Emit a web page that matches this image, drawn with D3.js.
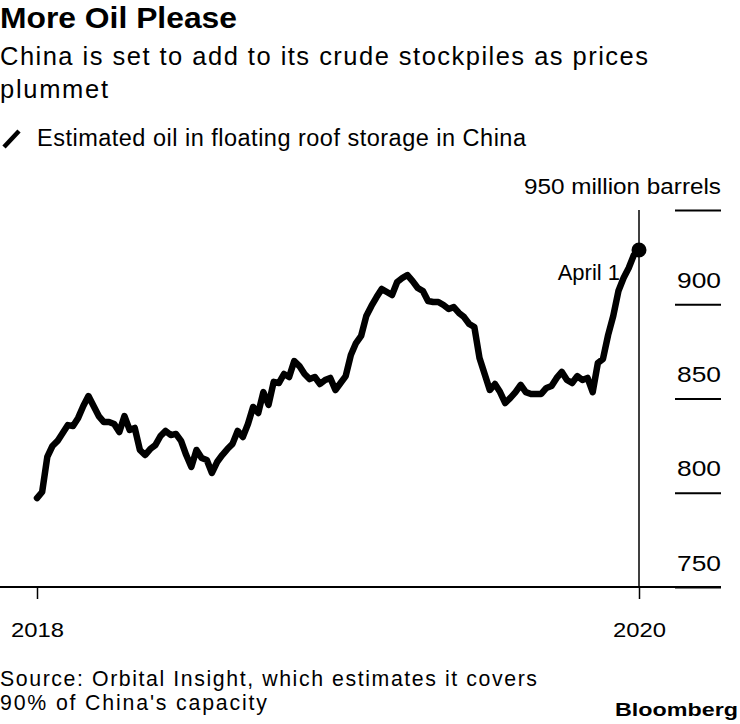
<!DOCTYPE html>
<html>
<head>
<meta charset="utf-8">
<script src="https://cdn.jsdelivr.net/npm/d3@7"></script>
<style>
  html, body { margin: 0; padding: 0; background: #fff; }
  svg { display: block; }
  text { font-family: "Liberation Sans", Arial, Helvetica, sans-serif; fill: #000; }
</style>
</head>
<body>
<svg id="chart" width="740" height="724"></svg>
<script>
// ---- data (weekly, starting 2018-01-03, ending 2020-04-01) ----
const startDate = "2018-01-03";
const storageValues = [
  797.2, 800.4, 819.0, 824.8, 827.5, 831.7, 835.9, 835.4, 839.7, 846.0,
  851.3, 846.0, 840.7, 837.5, 837.5, 836.5, 832.2, 840.7, 833.3, 834.4,
  822.7, 820.0, 823.2, 825.3, 830.1, 832.8, 830.6, 831.2, 827.5, 820.0,
  813.7, 822.7, 818.4, 817.4, 810.5, 816.3, 820.0, 823.2, 825.9, 832.8,
  829.6, 836.5, 845.5, 842.3, 853.4, 846.6, 858.8, 858.2, 863.0, 861.4,
  869.9, 867.2, 863.0, 860.3, 861.4, 857.7, 859.8, 860.9, 854.5, 858.2,
  861.9, 873.1, 879.4, 883.2, 893.8, 899.1, 903.8, 908.1, 906.5, 904.9,
  911.8, 913.9, 915.5, 912.3, 908.6, 907.0, 901.7, 901.2, 901.2, 899.6,
  897.5, 898.5, 895.4, 893.2, 889.5, 887.9, 871.5, 863.0, 854.5, 857.7,
  853.4, 847.6, 850.3, 853.4, 857.2, 853.4, 852.4, 852.4, 852.4, 855.6,
  856.6, 860.9, 864.1, 859.8, 858.2, 861.9, 859.8, 860.9, 853.4, 868.8,
  871.0, 883.7, 893.8, 907.0, 913.9, 919.2, 926.1, 928.8
];
const yTicks = [750, 800, 850, 900, 950];
const yUnitLabel = "950 million barrels";
const xTickLabels = ["2018", "2020"];
const endLabel = "April 1";
const title = "More Oil Please";
const subtitleLines = ["China is set to add to its crude stockpiles as prices", "plummet"];
const legendLabel = "Estimated oil in floating roof storage in China";
const sourceLines = ["Source: Orbital Insight, which estimates it covers", "90% of China's capacity"];

// ---- build ----
const parse = d3.timeParse("%Y-%m-%d");
const t0 = parse(startDate);
const data = storageValues.map((v, i) => ({ date: d3.timeWeek.offset(t0, i), value: v }));
const first = data[0], last = data[data.length - 1];

const svg = d3.select("#chart");

const x = d3.scaleTime().domain([first.date, last.date]).range([37, 639]);
const y = d3.scaleLinear().domain([750, 950]).range([587, 210]);

// Header
svg.append("text").attr("x", 0).attr("y", 28)
  .attr("font-size", 30).attr("font-weight", "bold")
  .attr("textLength", 237).attr("lengthAdjust", "spacingAndGlyphs")
  .text(title);

svg.append("text").attr("x", 0).attr("y", 65)
  .attr("font-size", 25.5).attr("textLength", 648).attr("lengthAdjust", "spacing")
  .text(subtitleLines[0]);
svg.append("text").attr("x", 0).attr("y", 98)
  .attr("font-size", 25.5).attr("textLength", 108).attr("lengthAdjust", "spacing")
  .text(subtitleLines[1]);

// Legend
svg.append("line").attr("x1", 4).attr("y1", 147).attr("x2", 19).attr("y2", 131)
  .attr("stroke", "#000").attr("stroke-width", 4.5);
svg.append("text").attr("x", 37).attr("y", 146)
  .attr("font-size", 23.5).attr("textLength", 489).attr("lengthAdjust", "spacing")
  .text(legendLabel);

// Y axis (right side)
const yAxis = d3.axisLeft(y).tickValues(yTicks).tickSize(46)
  .tickFormat(d => d === 950 ? yUnitLabel : d3.format("d")(d));
const gy = svg.append("g").attr("transform", "translate(721,0)").call(yAxis);
gy.select(".domain").remove();
gy.attr("font-family", null).attr("font-size", null);
gy.selectAll(".tick line").attr("stroke", "#000").attr("stroke-width", 2);
gy.selectAll(".tick text")
  .attr("x", 0).attr("dy", -17)
  .attr("text-anchor", "end").attr("font-size", 22).attr("fill", "#000")
  .attr("textLength", d => d === 950 ? 197 : 44)
  .attr("lengthAdjust", "spacingAndGlyphs");

// Baseline
svg.append("line").attr("x1", 0).attr("x2", 721)
  .attr("y1", y(750)).attr("y2", y(750))
  .attr("stroke", "#000").attr("stroke-width", 2);

// X axis ticks
const xAxis = d3.axisBottom(x).tickValues([first.date, last.date]).tickSize(12)
  .tickFormat((d, i) => xTickLabels[i]);
const gx = svg.append("g").attr("transform", `translate(0,${y(750)})`).call(xAxis);
gx.select(".domain").remove();
gx.attr("font-family", null).attr("font-size", null);
gx.selectAll(".tick line").attr("stroke", "#000").attr("stroke-width", 1.5);
gx.selectAll(".tick text").attr("y", 50).attr("dy", 0)
  .attr("font-size", 21).attr("fill", "#000")
  .attr("textLength", 53).attr("lengthAdjust", "spacingAndGlyphs");

// Vertical marker at last date
svg.append("line")
  .attr("x1", x(last.date)).attr("x2", x(last.date))
  .attr("y1", y(950)).attr("y2", y(750))
  .attr("stroke", "#000").attr("stroke-width", 1.5);

// End label (behind the line)
svg.append("text")
  .attr("x", x(last.date) - 19).attr("y", y(last.value) + 30)
  .attr("text-anchor", "end").attr("font-size", 22)
  .text(endLabel);

// Line
const line = d3.line().x(d => x(d.date)).y(d => y(d.value)).curve(d3.curveLinear);
svg.append("path").datum(data)
  .attr("d", line).attr("fill", "none").attr("stroke", "#000")
  .attr("stroke-width", 6.5).attr("stroke-linejoin", "round").attr("stroke-linecap", "round");

svg.append("circle").attr("cx", x(last.date)).attr("cy", y(last.value)).attr("r", 7.5).attr("fill", "#000");

// Footer
svg.append("text").attr("x", 0).attr("y", 686)
  .attr("font-size", 21.3).attr("textLength", 537).attr("lengthAdjust", "spacing")
  .text(sourceLines[0]);
svg.append("text").attr("x", 0).attr("y", 710)
  .attr("font-size", 21.3).attr("textLength", 267).attr("lengthAdjust", "spacing")
  .text(sourceLines[1]);
svg.append("text").attr("x", 738).attr("y", 716)
  .attr("text-anchor", "end").attr("font-size", 19).attr("font-weight", "bold")
  .attr("textLength", 123).attr("lengthAdjust", "spacingAndGlyphs")
  .text("Bloomberg");
</script>
</body>
</html>
